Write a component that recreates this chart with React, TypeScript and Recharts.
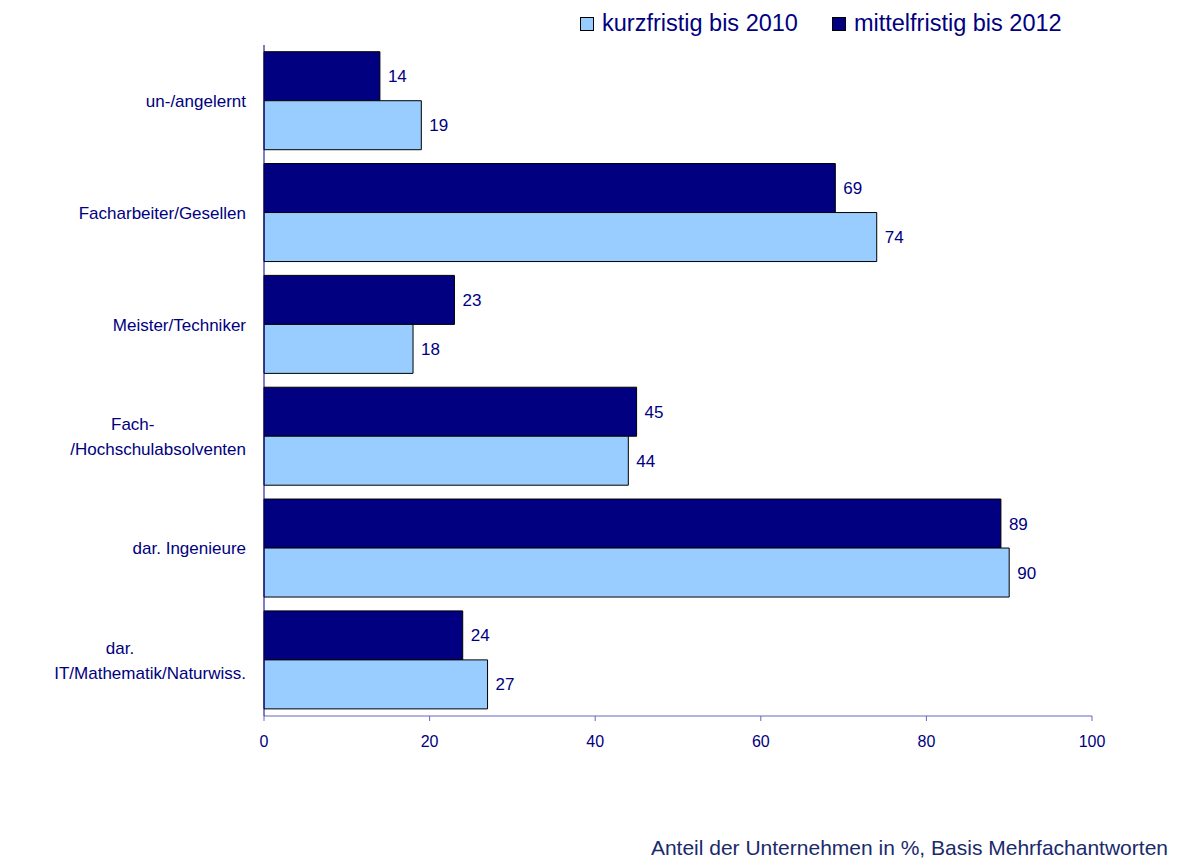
import React from 'react';
import { BarChart, Bar, XAxis, YAxis, LabelList } from 'recharts';

// categories, top to bottom
const categories = [
    'un-/angelernt',
    'Facharbeiter/Gesellen',
    'Meister/Techniker',
    'Fach-\n/Hochschulabsolventen',
    'dar. Ingenieure',
    'dar.\nIT/Mathematik/Naturwiss.',
];
const kurzfristig = [19, 74, 18, 44, 90, 27];
const mittelfristig = [14, 69, 23, 45, 89, 24];
const xTicks = [0, 20, 40, 60, 80, 100];

const NAVY = '#000080';
const LIGHT = '#99ccff';
const FONT = 'Arial, "Liberation Sans", sans-serif';

const data = categories.map((name, i) => ({
    name,
    kurz: kurzfristig[i],
    mittel: mittelfristig[i],
}));

const CategoryTick = (props: any) => {
    const { x, y, payload } = props;
    const lines: string[] = String(payload.value).split('\n');
    const right = x - 18;
    if (lines.length === 1) {
        return (
            <text x={right} y={y} dy="0.35em" textAnchor="end" fill={NAVY} fontSize={17} fontFamily={FONT}>
                {lines[0]}
            </text>
        );
    }
    // wrapped label: short first line sits roughly centered over the long one
    const estWidth = lines[1].length * 8.5;
    return (
        <g>
            <text x={right - estWidth / 2 - 24} y={y - 12} dy="0.35em" textAnchor="middle" fill={NAVY} fontSize={17} fontFamily={FONT}>
                {lines[0]}
            </text>
            <text x={right} y={y + 13} dy="0.35em" textAnchor="end" fill={NAVY} fontSize={17} fontFamily={FONT}>
                {lines[1]}
            </text>
        </g>
    );
};

const LegendSwatch = ({ color, label }: { color: string; label: string }) => (
    <div style={{ display: 'flex', alignItems: 'center', marginRight: 34 }}>
        <div style={{ width: 12, height: 12, background: color, border: '1px solid #000', marginRight: 8 }} />
        <span style={{ fontSize: 23.5, color: NAVY, fontFamily: FONT }}>{label}</span>
    </div>
);

export default function App() {
    return (
        <div style={{ position: 'absolute', left: 0, top: 0, width: 1179, height: 866, background: '#fff' }}>
            <div style={{ position: 'absolute', left: 580, top: 10, display: 'flex' }}>
                <LegendSwatch color={LIGHT} label="kurzfristig bis 2010" />
                <LegendSwatch color={NAVY} label="mittelfristig bis 2012" />
            </div>
            <BarChart
                width={1179}
                height={866}
                data={data}
                layout="vertical"
                margin={{ top: 45, right: 87, left: 0, bottom: 110 }}
                barCategoryGap="6%"
                barGap={0}
            >
                <XAxis
                    type="number"
                    domain={[0, 100]}
                    ticks={xTicks}
                    height={40}
                    axisLine={{ stroke: '#6666bb' }}
                    tickLine={{ stroke: '#6666bb' }}
                    tickSize={5}
                    tickMargin={15}
                    tick={{ fill: NAVY, fontSize: 16, fontFamily: FONT }}
                />
                <YAxis
                    type="category"
                    dataKey="name"
                    width={264}
                    axisLine={{ stroke: NAVY }}
                    tickLine={false}
                    tickSize={0}
                    tickMargin={0}
                    tick={<CategoryTick />}
                />
                <Bar dataKey="mittel" fill={NAVY} stroke="#000" strokeWidth={1} isAnimationActive={false}>
                    <LabelList dataKey="mittel" position="right" offset={8} fill={NAVY} fontSize={17} fontFamily={FONT} />
                </Bar>
                <Bar dataKey="kurz" fill={LIGHT} stroke="#000" strokeWidth={1} isAnimationActive={false}>
                    <LabelList dataKey="kurz" position="right" offset={8} fill={NAVY} fontSize={17} fontFamily={FONT} />
                </Bar>
            </BarChart>
            <div style={{ position: 'absolute', right: 11, top: 836, fontSize: 21, color: '#1a2a6c', fontFamily: FONT }}>
                Anteil der Unternehmen in %, Basis Mehrfachantworten
            </div>
        </div>
    );
}
